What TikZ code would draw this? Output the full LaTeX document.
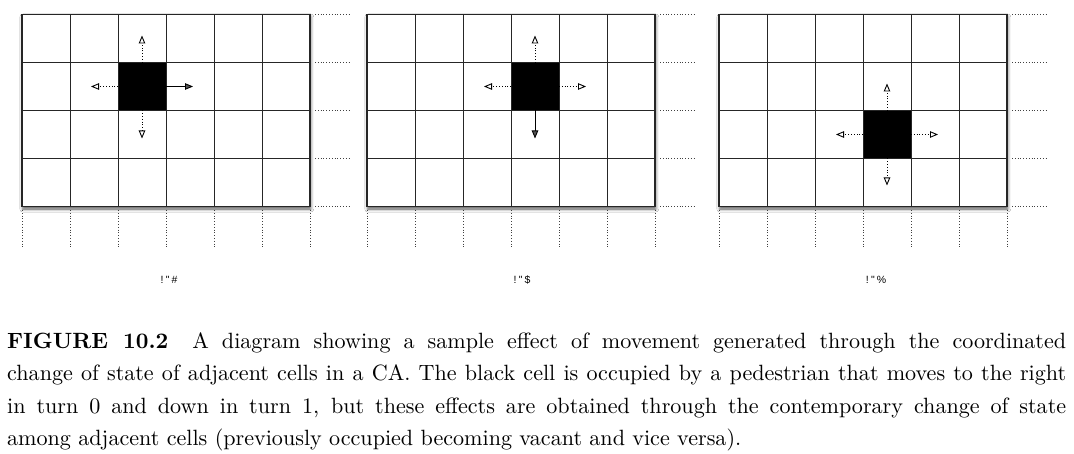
\documentclass[tikz,border=0pt]{standalone}
\usepackage{fontspec}
\setmainfont{lmroman10-regular.otf}[BoldFont=lmroman10-bold.otf, ItalicFont=lmroman10-italic.otf]
\newfontfamily\labelfont[Ligatures=TeXOff]{Liberation Sans}
\usetikzlibrary{arrows.meta,shadows.blur}

\tikzset{
  gridline/.style={line width=0.9pt, draw=black!85},
  frame/.style={line width=1.3pt, draw=black!85, fill=white,
    blur shadow={shadow xshift=0.8pt, shadow yshift=-2.5pt, shadow blur radius=3pt, shadow opacity=65}},
  guide/.style={dotted, line width=0.8pt, draw=black!75},
  occupied/.style={fill=black, draw=black!85, line width=0.9pt, minimum size=48pt, inner sep=0pt, outer sep=0pt},
  tryarrow/.style={dotted, line width=0.8pt, -{Triangle[open, length=8pt, width=6.5pt, line width=0.9pt]}},
  movearrow/.style={line width=0.9pt, -{Triangle[length=8pt, width=6.5pt]}},
  turnlabel/.style={font=\labelfont\fontsize{10.5}{11}\selectfont, inner sep=0pt},
}

\newcommand{\cagrid}[1]{%
  \draw[frame] (#1,14.5) rectangle ++(288,192);
  \foreach \i in {1,...,5} \draw[gridline] ({#1+48*\i},14.5) -- ++(0,192);
  \foreach \j in {1,2,3} \draw[gridline] (#1,{14.5+48*\j}) -- ++(288,0);
  \foreach \j in {0,...,4} \draw[guide] ({#1+293},{14.5+48*\j}) -- ++(36,0);
  \foreach \i in {0,...,6} \draw[guide] ({#1+48*\i},210) -- ++(0,38);
}

\begin{document}
\begin{tikzpicture}[x=1pt, y=-1pt]
  \useasboundingbox[fill=white] (0,0) rectangle (1074,454);

  % turn 0
  \cagrid{22}
  \node[occupied] (p1) at (142,86.5) {};
  \draw[tryarrow] (p1.north) -- ++(0,-27);
  \draw[tryarrow] (p1.west) -- ++(-27,0);
  \draw[tryarrow] (p1.south) -- ++(0,28);
  \draw[movearrow] (p1.east) -- ++(27,0);
  \node[turnlabel] (t1) at (169,280) {!\hspace{2.5pt}"\hspace{2pt}\#};

  % turn 1
  \cagrid{367}
  \node[occupied] (p2) at (535,86.5) {};
  \draw[tryarrow] (p2.north) -- ++(0,-27);
  \draw[tryarrow] (p2.west) -- ++(-27,0);
  \draw[tryarrow] (p2.east) -- ++(27,0);
  \draw[movearrow] (p2.south) -- ++(0,28);
  \node[turnlabel] (t2) at (522,280) {!\hspace{2.5pt}"\hspace{2pt}\$};

  % turn 2
  \cagrid{719}
  \node[occupied] (p3) at (887,134.5) {};
  \draw[tryarrow] (p3.north) -- ++(0,-27);
  \draw[tryarrow] (p3.west) -- ++(-27,0);
  \draw[tryarrow] (p3.east) -- ++(27,0);
  \draw[tryarrow] (p3.south) -- ++(0,27);
  \node[turnlabel] (t3) at (876,280) {!\hspace{2.5pt}"\hspace{2pt}\%};

  % caption
  \node[anchor=north west, inner sep=0pt, text width=1059pt, align=justify,
        font=\fontsize{22.1}{32.5}\selectfont] (cap) at (7,332)
  {{\bfseries FIGURE 10.2}\hspace{0.5em} A diagram showing a sample effect of movement generated through the coordinated\linebreak
   change of state of adjacent cells in a CA. The black cell is occupied by a pedestrian that moves to the right\linebreak
   in turn 0 and down in turn 1, but these effects are obtained through the contemporary change of state\linebreak
   among adjacent cells (previously occupied becoming vacant and vice versa).};
\end{tikzpicture}
\end{document}
